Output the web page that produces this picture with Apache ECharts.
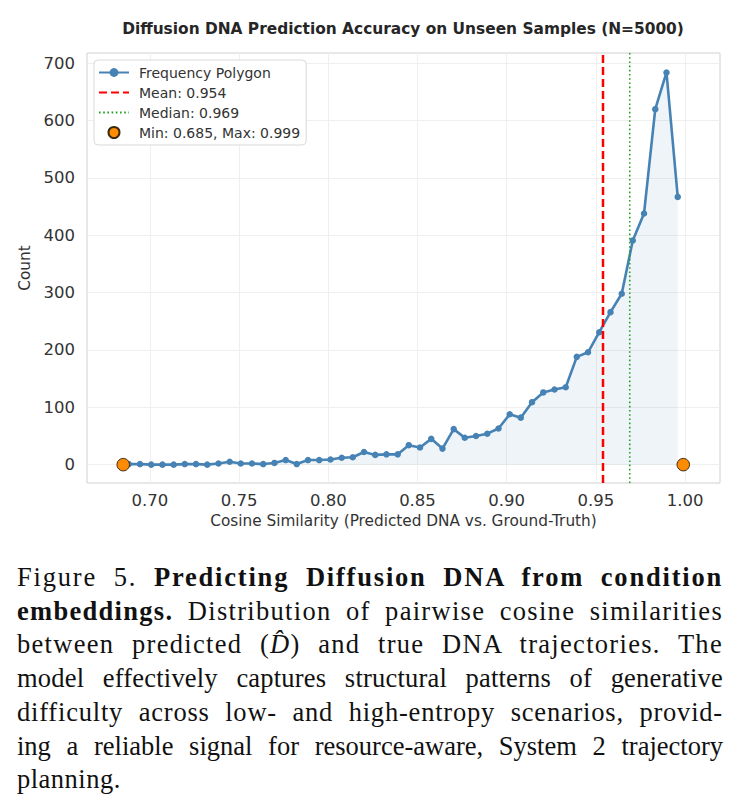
<!DOCTYPE html>
<html>
<head>
<meta charset="utf-8">
<script src="https://cdn.jsdelivr.net/npm/echarts@6/dist/echarts.min.js"></script>
<style>
body { margin: 0; background: #fff; width: 740px; height: 805px; overflow: hidden; position: relative; }
#chart { position: absolute; left: 0; top: 0; width: 740px; height: 545px; }
#caption { position: absolute; left: 17px; top: 561px; width: 706px;
  font-family: "Liberation Serif", serif; font-size: 26.5px; line-height: 33.7px; color: #111; }
#caption .j { text-align: justify; text-align-last: justify; }
#caption .l { text-align: left; }
</style>
</head>
<body>
<div id="chart"></div>
<div id="caption">
  <div class="j" style="letter-spacing:1.8px">Figure 5. <b>Predicting Diffusion DNA from condition</b></div>
  <div class="j" style="letter-spacing:1.3px"><b>embeddings.</b> Distribution of pairwise cosine similarities</div>
  <div class="j" style="letter-spacing:1.3px">between predicted (<i>D&#770;</i>) and true DNA trajectories. The</div>
  <div class="j" style="letter-spacing:0.2px">model effectively captures structural patterns of generative</div>
  <div class="j" style="letter-spacing:0.8px">difficulty across low- and high-entropy scenarios, provid-</div>
  <div class="j">ing a reliable signal for resource-aware, System 2 trajectory</div>
  <div class="l" style="letter-spacing:0.5px">planning.</div>
</div>
<script>
// bin centres of the 50-bin histogram (cosine similarity)
var binCenters = [
  0.6881, 0.6944, 0.7007, 0.7070, 0.7133, 0.7195, 0.7258, 0.7321, 0.7384, 0.7447,
  0.7509, 0.7572, 0.7635, 0.7698, 0.7761, 0.7823, 0.7886, 0.7949, 0.8012, 0.8075,
  0.8137, 0.8200, 0.8263, 0.8326, 0.8389, 0.8451, 0.8514, 0.8577, 0.8640, 0.8703,
  0.8765, 0.8828, 0.8891, 0.8954, 0.9017, 0.9079, 0.9142, 0.9205, 0.9268, 0.9331,
  0.9393, 0.9456, 0.9519, 0.9582, 0.9645, 0.9707, 0.9770, 0.9833, 0.9896, 0.9959
];
// counts per bin
var binCounts = [
  1, 1, 0, 0, 0, 1, 1, 0, 2, 5,
  2, 2, 1, 3, 8, 1, 8, 8, 9, 12,
  13, 22, 17, 18, 18, 34, 30, 45, 28, 62,
  47, 50, 54, 63, 88, 82, 109, 126, 131, 135,
  188, 196, 231, 266, 298, 391, 438, 620, 684, 467
];
var meanValue = 0.954;
var medianValue = 0.969;
var minMaxValues = [0.685, 0.999];
var xTicks = [0.70, 0.75, 0.80, 0.85, 0.90, 0.95, 1.00];
var yTicks = [0, 100, 200, 300, 400, 500, 600, 700];
var xRange = [0.6647, 1.0196];
var yRange = [-32, 718];

var polygon = binCenters.map(function (x, i) { return [x, binCounts[i]]; });
var extremes = minMaxValues.map(function (x) { return [x, 0]; });

var font = 'DejaVu Sans';
var chart = echarts.init(document.getElementById('chart'), null, { renderer: 'svg' });

chart.setOption({
  animation: false,
  backgroundColor: '#fff',
  textStyle: { fontFamily: font },
  title: {
    text: 'Diffusion DNA Prediction Accuracy on Unseen Samples (N=5000)',
    left: 398, top: 16, textAlign: 'center',
    textStyle: { fontFamily: font, fontSize: 15.4, fontWeight: 'bold', color: '#262626' }
  },
  grid: {
    left: 87, right: 20, top: 53, bottom: 62,
    show: true, borderColor: '#d0d0d0', borderWidth: 1,
    outerBoundsMode: 'none'
  },
  legend: {
    orient: 'vertical', left: 94, top: 60,
    itemWidth: 30, itemHeight: 11, itemGap: 3,
    padding: [4, 6, 4, 4],
    backgroundColor: '#fff', borderColor: '#d9d9d9', borderWidth: 1, borderRadius: 4,
    textStyle: { fontFamily: font, fontSize: 14, color: '#333', lineHeight: 17, padding: [0, 0, 0, 5] },
    data: [
      { name: 'Frequency Polygon' },
      { name: 'Mean: 0.954', itemStyle: { opacity: 0 } },
      { name: 'Median: 0.969', itemStyle: { opacity: 0 } },
      { name: 'Min: 0.685, Max: 0.999' }
    ]
  },
  xAxis: {
    type: 'value', min: xRange[0], max: xRange[1],
    name: 'Cosine Similarity (Predicted DNA vs. Ground-Truth)',
    nameLocation: 'middle', nameGap: 30,
    nameTextStyle: { fontFamily: font, fontSize: 15.3, color: '#333' },
    axisLine: { show: false },
    axisTick: { show: false, customValues: xTicks },
    axisLabel: {
      customValues: xTicks, margin: 9, fontSize: 16.5, color: '#333', fontFamily: font,
      formatter: function (v) { return v.toFixed(2); }
    },
    splitLine: { show: true, lineStyle: { color: '#efefef', width: 1 } }
  },
  yAxis: {
    type: 'value', min: yRange[0], max: yRange[1],
    name: 'Count', nameLocation: 'middle', nameGap: 54, nameRotate: 90,
    nameTextStyle: { fontFamily: font, fontSize: 15.3, color: '#333' },
    axisLine: { show: false },
    axisTick: { show: false, customValues: yTicks },
    axisLabel: { customValues: yTicks, margin: 12, fontSize: 16.5, color: '#333', fontFamily: font },
    splitLine: { show: true, lineStyle: { color: '#efefef', width: 1 } }
  },
  series: [
    {
      name: 'Frequency Polygon', type: 'line', data: polygon,
      symbol: 'circle', symbolSize: 6.5, showSymbol: true,
      lineStyle: { color: '#4682b4', width: 2.6 },
      itemStyle: { color: '#4682b4' },
      areaStyle: { color: 'rgba(70,130,180,0.13)', origin: 0 },
      z: 2
    },
    {
      name: 'Mean: 0.954', type: 'line', symbol: 'none',
      data: [[meanValue, yRange[0]], [meanValue, yRange[1]]],
      lineStyle: { color: '#ff0000', width: 2.5, type: [8, 4] },
      itemStyle: { color: '#ff0000' },
      z: 3
    },
    {
      name: 'Median: 0.969', type: 'line', symbol: 'none',
      data: [[medianValue, yRange[0]], [medianValue, yRange[1]]],
      lineStyle: { color: '#22a022', width: 1.6, type: [1.6, 2.6] },
      itemStyle: { color: '#22a022' },
      z: 3
    },
    {
      name: 'Min: 0.685, Max: 0.999', type: 'scatter', data: extremes,
      symbol: 'circle', symbolSize: 12.5,
      itemStyle: { color: '#ff8c00', borderColor: '#3a2a10', borderWidth: 1, opacity: 1 },
      z: 4
    }
  ]
});
</script>
</body>
</html>
